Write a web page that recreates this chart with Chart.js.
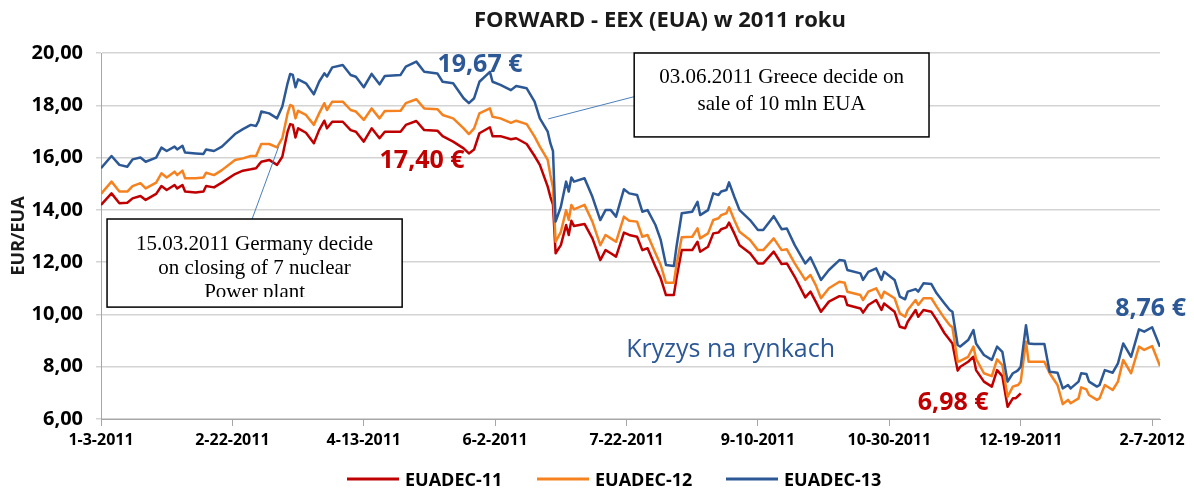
<!DOCTYPE html>
<html lang="pl">
<head>
  <meta charset="UTF-8" />
  <title>FORWARD - EEX (EUA) w 2011 roku</title>
  <script src="https://cdn.jsdelivr.net/npm/chart.js"></script>
  <style>
    html, body { margin: 0; padding: 0; background: #fff; }
  </style>
</head>
<body>
  <canvas id="chart" width="1194" height="488"></canvas>

  <script>
    // x = trading day, counted in calendar days from 1-3-2011
    const days = [
      0, 4, 7, 10, 12, 15, 17, 21, 23, 25,
      28, 29, 31, 32, 36, 39, 40, 43, 46, 51,
      54, 57, 59, 60, 61, 64, 67, 69, 71, 72,
      73, 74, 75, 78, 81, 83, 85, 86, 88, 92,
      95, 97, 100, 103, 106, 108, 114, 116, 120, 123,
      128, 130, 134, 138, 140, 142, 144, 148, 149, 152,
      156, 158, 162, 165, 167, 170, 171, 172, 173, 175,
      177, 178, 179, 180, 184, 187, 190, 192, 194, 196,
      199, 201, 204, 206, 208, 211, 213, 215, 218, 219,
      221, 225, 227, 228, 231, 233, 235, 236, 238, 239,
      241, 243, 247, 250, 252, 256, 259, 261, 264, 268,
      270, 272, 274, 277, 281, 283, 284, 289, 290, 292,
      295, 297, 298, 302, 304, 306, 307, 310, 311, 313,
      316, 318, 321, 323, 324, 326, 327, 330, 332, 333,
      336, 339, 341, 343, 345, 347, 348, 349, 350, 352,
      353, 355, 359, 361, 364, 366, 368, 369, 372, 373,
      375, 376, 379, 380, 382, 385, 387, 389, 392, 395,
      397, 400, 403
    ];

    // EUADEC-11 expires in December, so it stops at 12-19-2011
    const euadec11 = [
      14.19, 14.63, 14.25, 14.27, 14.44, 14.53, 14.38, 14.61, 14.91, 14.76,
      14.95, 14.82, 14.95, 14.70, 14.66, 14.70, 14.91, 14.86, 15.04, 15.37,
      15.50, 15.55, 15.59, 15.72, 15.84, 15.91, 15.72, 16.03, 16.99, 17.28,
      17.25, 16.77, 17.12, 16.95, 16.55, 17.05, 17.41, 17.12, 17.37, 17.37,
      17.05, 16.99, 16.61, 17.12, 16.74, 16.99, 16.99, 17.25, 17.40, 17.05,
      17.03, 16.82, 16.61, 16.35, 16.16, 16.31, 16.93, 17.16, 16.82, 16.82,
      16.70, 16.74, 16.52, 16.06, 15.72, 14.89, 14.50, 14.20, 12.34, 12.65,
      13.42, 13.04, 13.58, 13.38, 13.46, 12.91, 12.08, 12.46, 12.34, 12.21,
      13.13, 13.04, 12.97, 12.46, 12.53, 11.82, 11.38, 10.74, 10.74, 11.38,
      12.46, 12.46, 12.78, 12.40, 12.59, 13.10, 13.13, 13.26, 13.33, 13.51,
      13.10, 12.65, 12.34, 11.95, 11.95, 12.40, 11.93, 11.95, 11.44, 10.65,
      10.87, 10.49, 10.10, 10.49, 10.70, 10.68, 10.36, 10.23, 10.07, 10.36,
      10.55, 10.17, 10.42, 10.10, 9.53, 9.47, 9.72, 10.17, 9.91, 10.17,
      10.10, 9.79, 9.28, 9.02, 8.89, 7.85, 8.00, 8.19, 8.38, 7.87,
      7.43, 7.24, 7.87, 7.64, 6.47, 6.79, 6.79, 6.88, 6.98
    ];

    const euadec12 = [
      14.61, 15.08, 14.70, 14.70, 14.91, 15.02, 14.82, 15.04, 15.40, 15.24,
      15.46, 15.33, 15.50, 15.21, 15.21, 15.24, 15.42, 15.33, 15.52, 15.91,
      15.97, 16.06, 16.06, 16.29, 16.52, 16.52, 16.39, 16.74, 17.69, 18.01,
      17.97, 17.50, 17.79, 17.63, 17.25, 17.69, 18.08, 17.82, 18.14, 18.14,
      17.82, 17.76, 17.44, 17.88, 17.50, 17.78, 17.79, 18.08, 18.23, 17.88,
      17.85, 17.63, 17.50, 17.12, 16.90, 17.12, 17.69, 17.88, 17.56, 17.50,
      17.33, 17.41, 17.28, 16.80, 16.42, 15.91, 15.33, 14.85, 12.78, 13.16,
      13.99, 13.61, 14.19, 14.02, 14.19, 13.55, 12.65, 13.04, 12.91, 12.78,
      13.74, 13.58, 13.55, 12.97, 13.04, 12.34, 11.89, 11.21, 11.21, 11.89,
      12.95, 12.97, 13.29, 12.91, 13.10, 13.61, 13.68, 13.80, 13.87, 14.10,
      13.61, 13.16, 12.85, 12.46, 12.46, 12.91, 12.46, 12.49, 11.95, 11.32,
      11.51, 11.12, 10.62, 11.00, 11.25, 11.21, 10.87, 10.74, 10.55, 10.87,
      11.00, 10.62, 10.87, 10.62, 10.04, 9.91, 10.17, 10.55, 10.36, 10.62,
      10.62, 10.30, 9.85, 9.59, 9.51, 8.19, 8.22, 8.38, 8.77, 8.30,
      7.75, 7.64, 8.28, 8.06, 6.85, 7.24, 7.27, 7.30, 7.43, 8.96,
      8.19, 8.19, 8.19, 7.75, 7.30, 6.57, 6.73, 6.60, 6.79, 7.21,
      7.13, 6.92, 6.73, 6.79, 7.30, 7.11, 7.43, 8.26, 7.75, 8.77,
      8.64, 8.79, 8.03
    ];

    const euadec13 = [
      15.59, 16.06, 15.72, 15.65, 15.93, 16.00, 15.84, 16.00, 16.38, 16.25,
      16.42, 16.31, 16.45, 16.19, 16.16, 16.14, 16.31, 16.25, 16.42, 16.90,
      17.09, 17.25, 17.21, 17.41, 17.76, 17.69, 17.50, 17.95, 18.84, 19.20,
      19.16, 18.69, 18.99, 18.84, 18.42, 18.90, 19.22, 19.10, 19.45, 19.54,
      19.16, 19.09, 18.69, 19.20, 18.80, 19.12, 19.16, 19.48, 19.67, 19.28,
      19.22, 18.90, 18.84, 18.27, 18.08, 18.27, 18.90, 19.28, 18.90, 18.78,
      18.58, 18.74, 18.65, 18.14, 17.50, 16.99, 16.55, 16.25, 13.55, 14.12,
      15.08, 14.70, 15.24, 15.08, 15.21, 14.50, 13.61, 13.99, 13.99, 13.74,
      14.79, 14.63, 14.57, 13.93, 13.99, 13.42, 12.85, 11.89, 11.85, 12.59,
      13.87, 13.93, 14.31, 13.80, 13.99, 14.63, 14.57, 14.70, 14.76, 15.05,
      14.50, 13.99, 13.61, 13.23, 13.23, 13.76, 13.26, 13.29, 12.65, 11.95,
      12.18, 11.76, 11.32, 11.70, 12.08, 12.05, 11.70, 11.57, 11.32, 11.63,
      11.76, 11.32, 11.63, 11.32, 10.68, 10.58, 10.87, 10.97, 10.87, 11.19,
      11.16, 10.81, 10.42, 10.17, 10.10, 8.83, 8.77, 9.02, 9.40, 8.89,
      8.45, 8.26, 8.77, 8.57, 7.43, 7.75, 7.80, 7.87, 8.00, 9.59,
      8.89, 8.87, 8.87, 7.81, 7.77, 7.17, 7.30, 7.17, 7.43, 7.75,
      7.72, 7.43, 7.24, 7.30, 7.87, 7.77, 8.13, 8.89, 8.38, 9.43,
      9.34, 9.51, 8.76
    ];

    const seriesNames = ['EUADEC-11', 'EUADEC-12', 'EUADEC-13'];
    const seriesColors = ['#c00000', '#f5821f', '#2c5896'];

    const xTickLabels = ['1-3-2011', '2-22-2011', '4-13-2011', '6-2-2011', '7-22-2011',
                         '9-10-2011', '10-30-2011', '12-19-2011', '2-7-2012'];
    const xTickStep = 50;
    const yMin = 6, yMax = 20, yStep = 2;

    const sans = '"Open Sans", "DejaVu Sans", sans-serif';
    const serif = '"Liberation Serif", "DejaVu Serif", serif';
    const titleText = 'FORWARD - EEX (EUA) w 2011 roku';

    // callouts, placed in axis units (day, EUR)
    const valueLabels = [
      { text: '19,67 €', day: 144.2, val: 19.29, color: '#2c5896', bold: true },
      { text: '17,40 €', day: 122.2, val: 15.60, color: '#c00000', bold: true },
      { text: '6,98 €', day: 324.3, val: 6.34, color: '#c00000', bold: true },
      { text: '8,76 €', day: 399.4, val: 9.94, color: '#2c5896', bold: true },
      { text: 'Kryzys na rynkach', day: 239.6, val: 8.37, color: '#2c5896', bold: false }
    ];
    const noteBoxes = [
      { x0: 2.3, x1: 114.6, y0: 13.65, y1: 10.28, first: 31, step: 24, clipAt: 78,
        lines: ['15.03.2011 Germany decide', 'on closing of 7 nuclear', 'Power plant'] },
      { x0: 202.9, x1: 315.1, y0: 20.0, y1: 16.79, first: 30, step: 27, clipAt: 84,
        lines: ['03.06.2011 Greece decide on', 'sale of 10 mln EUA'] }
    ];
    const connectors = [
      { from: [57.5, 13.65], to: [67.6, 16.42] },
      { from: [202.9, 18.33], to: [170.2, 17.48] }
    ];
    const legendStarts = [347, 537, 726];

    const toPoints = vals => vals.map((v, i) => ({ x: days[i], y: v }));

    const decorations = {
      id: 'decorations',
      afterDraw(chart) {
        const { ctx } = chart;
        const px = d => chart.scales.x.getPixelForValue(d);
        const py = v => chart.scales.y.getPixelForValue(v);
        ctx.save();

        // title
        ctx.fillStyle = '#1a1a1a';
        ctx.font = 'bold 22px ' + sans;
        ctx.textAlign = 'center';
        ctx.textBaseline = 'alphabetic';
        ctx.fillText(titleText, 660, 27);

        // connectors
        ctx.strokeStyle = '#4a7ebb';
        ctx.lineWidth = 1;
        connectors.forEach(c => {
          ctx.beginPath();
          ctx.moveTo(px(c.from[0]), py(c.from[1]));
          ctx.lineTo(px(c.to[0]), py(c.to[1]));
          ctx.stroke();
        });

        // note boxes
        noteBoxes.forEach(b => {
          const l = px(b.x0), r = px(b.x1), t = py(b.y0), bt = py(b.y1);
          ctx.fillStyle = '#fff';
          ctx.fillRect(l, t, r - l, bt - t);
          ctx.save();
          ctx.beginPath();
          ctx.rect(l, t, r - l, b.clipAt);
          ctx.clip();
          ctx.fillStyle = '#000';
          ctx.font = '21px ' + serif;
          ctx.textAlign = 'center';
          b.lines.forEach((s, i) => ctx.fillText(s, (l + r) / 2, t + b.first + i * b.step));
          ctx.restore();
          ctx.strokeStyle = '#000';
          ctx.lineWidth = 1.5;
          ctx.strokeRect(l, t, r - l, bt - t);
        });

        // value labels
        ctx.textAlign = 'center';
        valueLabels.forEach(lb => {
          ctx.fillStyle = lb.color;
          ctx.font = (lb.bold ? 'bold ' : '') + '25px ' + sans;
          ctx.fillText(lb.text, px(lb.day), py(lb.val));
        });

        // legend
        ctx.textAlign = 'left';
        ctx.font = 'bold 18px ' + sans;
        seriesNames.forEach((name, i) => {
          const x0 = legendStarts[i];
          ctx.strokeStyle = seriesColors[i];
          ctx.lineWidth = 3;
          ctx.beginPath();
          ctx.moveTo(x0, 479);
          ctx.lineTo(x0 + 52, 479);
          ctx.stroke();
          ctx.fillStyle = '#000';
          ctx.fillText(name, x0 + 58, 486);
        });

        ctx.restore();
      }
    };

    const tickFont = { family: sans, size: 16, weight: 'bold' };

    new Chart(document.getElementById('chart'), {
      type: 'line',
      data: {
        datasets: [euadec11, euadec12, euadec13].map((vals, i) => ({
          label: seriesNames[i],
          data: toPoints(vals),
          borderColor: seriesColors[i],
          backgroundColor: seriesColors[i],
          borderWidth: 2.5,
          borderJoinStyle: 'round',
          pointRadius: 0,
          tension: 0,
          fill: false,
          order: 2 - i
        }))
      },
      options: {
        responsive: false,
        animation: false,
        devicePixelRatio: 1,
        layout: { padding: { left: 8, right: 34, top: 53, bottom: 33 } },
        plugins: {
          legend: { display: false },
          title: { display: false },
          tooltip: { enabled: false }
        },
        scales: {
          x: {
            type: 'linear',
            min: 0,
            max: 403,
            afterBuildTicks: s => { s.ticks = xTickLabels.map((t, i) => ({ value: i * xTickStep })); },
            afterFit: s => { s.height = 36; },
            ticks: {
              callback: v => xTickLabels[Math.round(v / xTickStep)],
              font: tickFont,
              color: '#000',
              padding: 5,
              maxRotation: 0,
              autoSkip: false
            },
            grid: { drawOnChartArea: false, tickLength: 7, color: '#a6a6a6' },
            border: { color: '#a6a6a6' }
          },
          y: {
            min: yMin,
            max: yMax,
            afterFit: s => { s.width = 93; },
            ticks: {
              stepSize: yStep,
              callback: v => v.toFixed(2).replace('.', ','),
              font: { family: sans, size: 20, weight: 'bold' },
              color: '#000',
              padding: 13
            },
            grid: { color: '#d4d4d4', lineWidth: 1.5, tickLength: 5 },
            border: { color: '#a6a6a6' },
            title: {
              display: true,
              text: 'EUR/EUA',
              font: { family: sans, size: 18, weight: 'bold' },
              color: '#1a1a1a',
              padding: { top: 0, bottom: 0 }
            }
          }
        }
      },
      plugins: [decorations]
    });
  </script>
</body>
</html>
